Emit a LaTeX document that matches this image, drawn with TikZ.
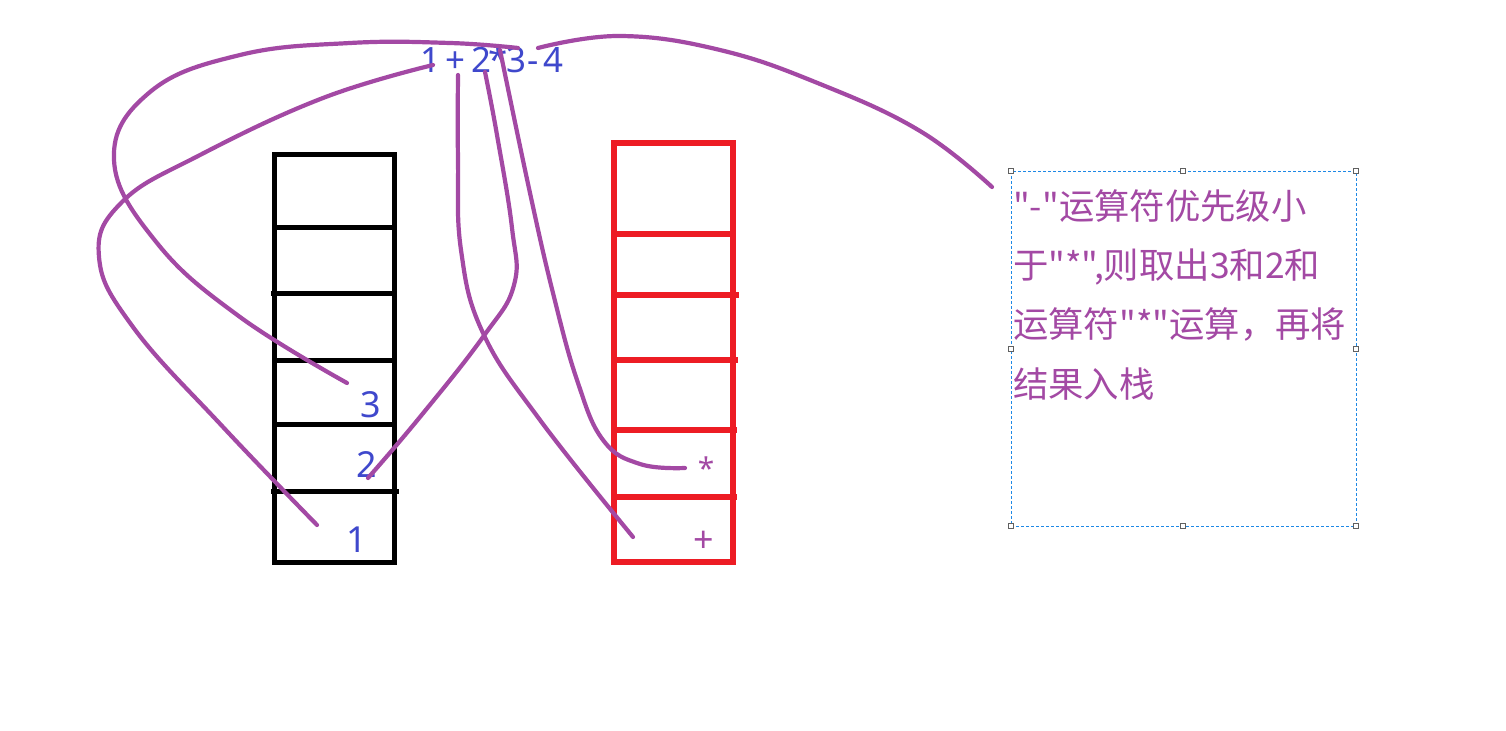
\documentclass[tikz,border=0pt]{standalone}
\usepackage{fontspec}
\setmainfont{Noto Sans}
\newfontfamily\cjk{Noto Sans CJK SC}
\definecolor{purp}{HTML}{A349A4}
\definecolor{bluetxt}{HTML}{3F48CC}
\definecolor{redstack}{HTML}{ED1C24}
\definecolor{selblue}{HTML}{1E88E5}
\definecolor{handle}{HTML}{606060}
\tikzset{
  blk/.style={line width=5bp, black},
  rd/.style={line width=5.5bp, redstack},
  link/.style={line width=4.2bp, purp, line cap=round, line join=round},
  expr/.style={inner sep=0pt, text=bluetxt, font=\fontsize{35}{40}\selectfont},
  num/.style={inner sep=0pt, text=bluetxt, font=\fontsize{36}{40}\selectfont},
  op/.style={inner sep=0pt, text=purp},
  boxtxt/.style={inner sep=0pt, text=purp, font=\cjk\fontsize{35.5}{40}\selectfont},
  hdl/.style={draw=handle, fill=white, line width=0.8bp},
  selbox/.style={draw=selblue, dashed, line width=1bp, dash pattern=on 3bp off 2bp}
}
\begin{document}
\begin{tikzpicture}[x=1bp,y=-1bp]
\useasboundingbox (0,0) rectangle (1506,731);
\fill[white] (0,0) rectangle (1506,731);

% expression characters
\node[expr, anchor=base] (e1) at (430,73) {1};
\node[expr, anchor=base] (eplus) at (455,73) {+};
\node[expr, anchor=base] (e2) at (481,73) {2};
\node[expr, anchor=base] (estar) at (498,73) {*};
\node[expr, anchor=base] (e3) at (516,73) {3};
\node[expr, anchor=base] (eminus) at (533,73) {-};
\node[expr, anchor=base] (e4) at (553,73) {4};

% black stack
\draw[blk] (274,154) rectangle (394,562);
\draw[blk] (274,227) -- (394,227);
\draw[blk] (271,293) -- (397,293);
\draw[blk] (274,360) -- (397,360);
\draw[blk] (274,424) -- (397,424);
\draw[blk] (271,491) -- (399,491);

% red stack
\draw[rd] (614,143) rectangle (733,562);
\draw[rd] (614,234) -- (733,234);
\draw[rd] (614,295) -- (739,295);
\draw[rd] (611,360) -- (738,360);
\draw[rd] (614,430) -- (737,430);
\draw[rd] (614,497) -- (737,497);

% stack contents
\node[num] (n3) at (371,405) {3};
\node[num] (n2) at (367,465) {2};
\node[num] (n1) at (357,540) {1};
\node[op, font=\fontsize{30}{34}\selectfont] (ostar) at (706,468) {*};
\node[op, font=\fontsize{36}{40}\selectfont] (oplus) at (704,542) {+};

% text box
\draw[selbox] (1011,171) rectangle (1356,526);
\foreach \p in {(1011,171),(1183,171),(1356,171),(1011,349),(1356,349),(1011,526),(1183,526),(1356,526)}
  \draw[hdl] \p ++(-2.5,-2.5) rectangle ++(5,5);
\node[boxtxt, anchor=base west] (t1) at (1013,219) {"-"运算符优先级小};
\node[boxtxt, anchor=base west] (t2) at (1013,278) {于"*",则取出3和2和};
\node[boxtxt, anchor=base west] (t3) at (1013,337) {运算符"*"运算，再将};
\node[boxtxt, anchor=base west] (t4) at (1013,397) {结果入栈};

% connector end points
\coordinate (a3) at (347,383);
\coordinate (b3) at (518,48);
\coordinate (a1) at (317,525);
\coordinate (b1) at (433,65);
\coordinate (a2) at (368,478);
\coordinate (b2) at (485,72);
\coordinate (aplus) at (633,537);
\coordinate (bplus) at (458,75);
\coordinate (astar) at (685,468);
\coordinate (bstar) at (500,50);
\coordinate (aminus) at (538,48);
\coordinate (bminus) at (992,187);

% connectors
\draw[link] plot[smooth, tension=0.7] coordinates {(a3) (240,317) (157,243) (114,160) (150,92) (240,55) (350,43) (450,43) (b3)};
\draw[link] plot[smooth, tension=0.7] coordinates {(a1) (223,427) (133,327) (99,257) (122,202) (200,155) (323,98) (b1)};
\draw[link] plot[smooth, tension=0.7] coordinates {(a2) (420,417) (483,337) (514,285) (512,228) (497,135) (b2)};
\draw[link] plot[smooth, tension=0.7] coordinates {(aplus) (540,420) (483,333) (461,250) (458,160) (bplus)};
\draw[link] plot[smooth, tension=0.7] coordinates {(astar) (640,464) (603,440) (577,380) (553,293) (530,193) (bstar)};
\draw[link] plot[smooth, tension=0.7] coordinates {(aminus) (620,36) (720,50) (820,84) (920,131) (bminus)};
\end{tikzpicture}
\end{document}
